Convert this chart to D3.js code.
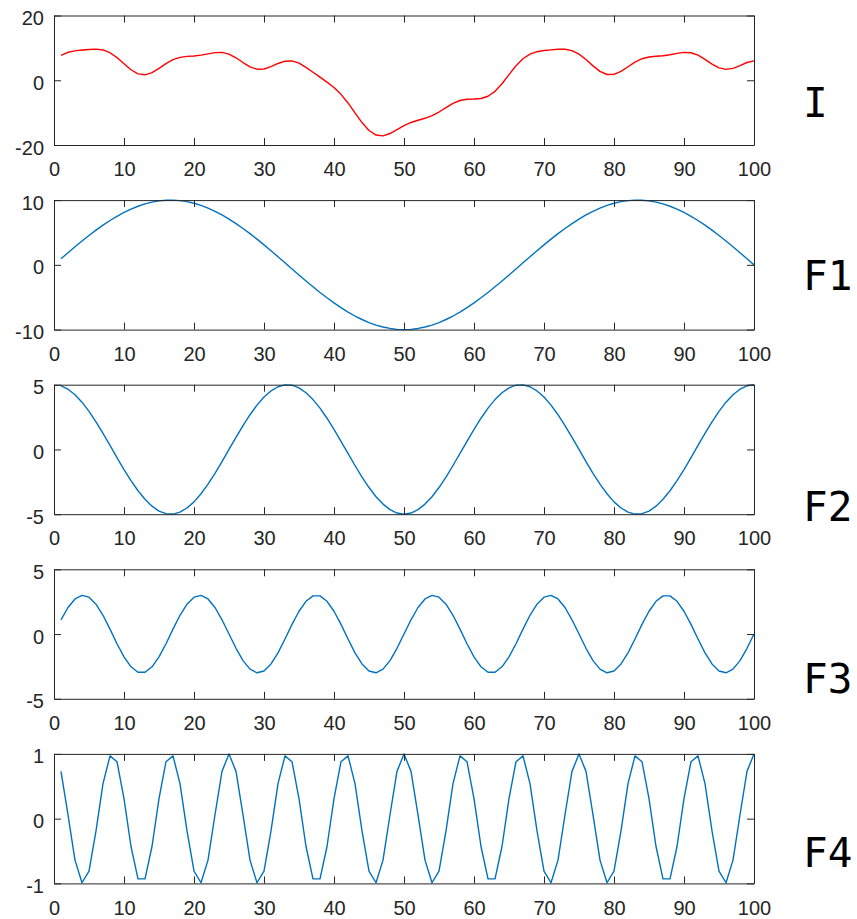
<!DOCTYPE html>
<html>
<head>
<meta charset="utf-8">
<script src="https://cdn.jsdelivr.net/npm/d3@7/dist/d3.min.js"></script>
<style>
  html, body { margin: 0; padding: 0; background: #ffffff; }
  svg { display: block; }
</style>
</head>
<body>
<svg id="chart"></svg>
<script>
  // sample index (1..100)
  const xValues = d3.range(1, 101);
  const xTicks = [0, 10, 20, 30, 40, 50, 60, 70, 80, 90, 100];

  // I = sum of the four components
  const seriesI = [
    7.68, 8.63, 9.08, 9.33, 9.52, 9.61, 9.36, 8.51, 7.00, 5.09,
    3.24, 1.98, 1.68, 2.35, 3.67, 5.15, 6.35, 7.07, 7.36, 7.50,
    7.76, 8.15, 8.54, 8.60, 8.07, 6.94, 5.47, 4.15, 3.41, 3.48,
    4.20, 5.18, 5.89, 5.96, 5.27, 3.99, 2.48, 0.95, -0.58, -2.26,
    -4.35, -7.01, -10.05, -13.07, -15.51, -16.93, -17.17, -16.46, -15.24, -14.00,
    -13.04, -12.36, -11.75, -10.95, -9.81, -8.45, -7.15, -6.25, -5.85, -5.78,
    -5.64, -4.95, -3.42, -1.07, 1.75, 4.46, 6.65, 8.08, 8.82, 9.18,
    9.39, 9.57, 9.57, 9.14, 8.07, 6.40, 4.44, 2.73, 1.78, 1.80,
    2.74, 4.17, 5.59, 6.65, 7.19, 7.41, 7.58, 7.88, 8.30, 8.61,
    8.50, 7.75, 6.46, 4.99, 3.82, 3.35, 3.66, 4.53, 5.48, 6.00
  ];

  const seriesF1 = [
    0.94, 1.87, 2.79, 3.68, 4.54, 5.36, 6.13, 6.85, 7.50, 8.09,
    8.61, 9.05, 9.41, 9.69, 9.88, 9.98, 9.99, 9.92, 9.76, 9.51,
    9.18, 8.76, 8.27, 7.71, 7.07, 6.37, 5.62, 4.82, 3.97, 3.09,
    2.18, 1.25, 0.31, -0.63, -1.56, -2.49, -3.39, -4.26, -5.09, -5.88,
    -6.61, -7.29, -7.90, -8.44, -8.91, -9.30, -9.60, -9.82, -9.96, -10.00,
    -9.96, -9.82, -9.60, -9.30, -8.91, -8.44, -7.90, -7.29, -6.61, -5.88,
    -5.09, -4.26, -3.39, -2.49, -1.56, -0.63, 0.31, 1.25, 2.18, 3.09,
    3.97, 4.82, 5.62, 6.37, 7.07, 7.71, 8.27, 8.76, 9.18, 9.51,
    9.76, 9.92, 9.99, 9.98, 9.88, 9.69, 9.41, 9.05, 8.61, 8.09,
    7.50, 6.85, 6.13, 5.36, 4.54, 3.68, 2.79, 1.87, 0.94, 0.00
  ];

  const seriesF2 = [
    4.91, 4.65, 4.22, 3.65, 2.94, 2.13, 1.24, 0.31, -0.63, -1.55,
    -2.41, -3.19, -3.85, -4.38, -4.76, -4.96, -4.99, -4.84, -4.52, -4.05,
    -3.42, -2.68, -1.84, -0.94, 0.00, 0.94, 1.84, 2.68, 3.42, 4.05,
    4.52, 4.84, 4.99, 4.96, 4.76, 4.38, 3.85, 3.19, 2.41, 1.55,
    0.63, -0.31, -1.24, -2.13, -2.94, -3.65, -4.22, -4.65, -4.91, -5.00,
    -4.91, -4.65, -4.22, -3.65, -2.94, -2.13, -1.24, -0.31, 0.63, 1.55,
    2.41, 3.19, 3.85, 4.38, 4.76, 4.96, 4.99, 4.84, 4.52, 4.05,
    3.42, 2.68, 1.84, 0.94, 0.00, -0.94, -1.84, -2.68, -3.42, -4.05,
    -4.52, -4.84, -4.99, -4.96, -4.76, -4.38, -3.85, -3.19, -2.41, -1.55,
    -0.63, 0.31, 1.24, 2.13, 2.94, 3.65, 4.22, 4.65, 4.91, 5.00
  ];

  const seriesF3 = [
    1.10, 2.05, 2.71, 2.99, 2.85, 2.31, 1.45, 0.38, -0.75, -1.76,
    -2.53, -2.95, -2.95, -2.53, -1.76, -0.75, 0.38, 1.45, 2.31, 2.85,
    2.99, 2.71, 2.05, 1.10, 0.00, -1.10, -2.05, -2.71, -2.99, -2.85,
    -2.31, -1.45, -0.38, 0.75, 1.76, 2.53, 2.95, 2.95, 2.53, 1.76,
    0.75, -0.38, -1.45, -2.31, -2.85, -2.99, -2.71, -2.05, -1.10, 0.00,
    1.10, 2.05, 2.71, 2.99, 2.85, 2.31, 1.45, 0.38, -0.75, -1.76,
    -2.53, -2.95, -2.95, -2.53, -1.76, -0.75, 0.38, 1.45, 2.31, 2.85,
    2.99, 2.71, 2.05, 1.10, 0.00, -1.10, -2.05, -2.71, -2.99, -2.85,
    -2.31, -1.45, -0.38, 0.75, 1.76, 2.53, 2.95, 2.95, 2.53, 1.76,
    0.75, -0.38, -1.45, -2.31, -2.85, -2.99, -2.71, -2.05, -1.10, 0.00
  ];

  const seriesF4 = [
    0.73, 0.06, -0.64, -0.99, -0.81, -0.19, 0.54, 0.97, 0.88, 0.31,
    -0.43, -0.93, -0.93, -0.43, 0.31, 0.88, 0.97, 0.54, -0.19, -0.81,
    -0.99, -0.64, 0.06, 0.73, 1.00, 0.73, 0.06, -0.64, -0.99, -0.81,
    -0.19, 0.54, 0.97, 0.88, 0.31, -0.43, -0.93, -0.93, -0.43, 0.31,
    0.88, 0.97, 0.54, -0.19, -0.81, -0.99, -0.64, 0.06, 0.73, 1.00,
    0.73, 0.06, -0.64, -0.99, -0.81, -0.19, 0.54, 0.97, 0.88, 0.31,
    -0.43, -0.93, -0.93, -0.43, 0.31, 0.88, 0.97, 0.54, -0.19, -0.81,
    -0.99, -0.64, 0.06, 0.73, 1.00, 0.73, 0.06, -0.64, -0.99, -0.81,
    -0.19, 0.54, 0.97, 0.88, 0.31, -0.43, -0.93, -0.93, -0.43, 0.31,
    0.88, 0.97, 0.54, -0.19, -0.81, -0.99, -0.64, 0.06, 0.73, 1.00
  ];

  const panelNames = ['I', 'F1', 'F2', 'F3', 'F4'];
  const panelSeries = [seriesI, seriesF1, seriesF2, seriesF3, seriesF4];
  const panelLimits = [20, 10, 5, 5, 1];

  const width = 857;
  const height = 919;
  const left = 54;
  const right = 754;
  const firstTop = 15.5;
  const step = 184.6;
  const plotH = 129.5;
  const labelBaselines = [117, 290, 521, 693, 867];
  const axisColor = '#262626';
  const tickFont = '"Liberation Sans", Arial, Helvetica, sans-serif';

  const svg = d3.select('#chart').attr('width', width).attr('height', height);

  const x = d3.scaleLinear().domain([0, 100]).range([left, right]);
  const fmt = (d) => String(d); // plain hyphen minus like the original

  panelNames.forEach((name, i) => {
    const top = firstTop + i * step;
    const bottom = top + plotH;
    const lim = panelLimits[i];
    const y = d3.scaleLinear().domain([-lim, lim]).range([bottom, top]);
    const yTicks = [-lim, 0, lim];
    const g = svg.append('g').attr('class', `panel panel-${name}`);

    const line = d3
      .line()
      .x((d, j) => x(xValues[j]))
      .y((d) => y(d));

    g.append('path')
      .datum(panelSeries[i])
      .attr('fill', 'none')
      .attr('stroke', i === 0 ? '#ff0000' : '#0072bd')
      .attr('stroke-width', 1.4)
      .attr('stroke-linejoin', 'round')
      .attr('d', line);

    const styleAxis = (sel) => {
      sel.select('.domain').attr('stroke', axisColor).attr('stroke-width', 1);
      sel.selectAll('.tick line').attr('stroke', axisColor).attr('stroke-width', 1);
      sel.selectAll('.tick text')
        .attr('fill', axisColor)
        .style('font-family', tickFont)
        .style('font-size', '20px');
    };

    g.append('g')
      .attr('transform', `translate(0,${bottom})`)
      .call(d3.axisBottom(x).tickValues(xTicks).tickFormat(fmt).tickSizeInner(-7).tickSizeOuter(0).tickPadding(17))
      .call(styleAxis);

    g.append('g')
      .attr('transform', `translate(0,${top})`)
      .call(d3.axisTop(x).tickValues(xTicks).tickFormat('').tickSizeInner(-7).tickSizeOuter(0))
      .call(styleAxis);

    g.append('g')
      .attr('transform', `translate(${left},0)`)
      .call(d3.axisLeft(y).tickValues(yTicks).tickFormat(fmt).tickSizeInner(-7).tickSizeOuter(0).tickPadding(10))
      .call(styleAxis)
      .selectAll('.tick text')
      .attr('dy', '0.45em');

    g.append('g')
      .attr('transform', `translate(${right},0)`)
      .call(d3.axisRight(y).tickValues(yTicks).tickFormat('').tickSizeInner(-7).tickSizeOuter(0))
      .call(styleAxis);

    g.append('text')
      .attr('x', 803)
      .attr('y', labelBaselines[i])
      .attr('fill', '#000000')
      .style('font-family', '"DejaVu Sans Mono", monospace')
      .style('font-size', '41px')
      .text(name);
  });
</script>
</body>
</html>
